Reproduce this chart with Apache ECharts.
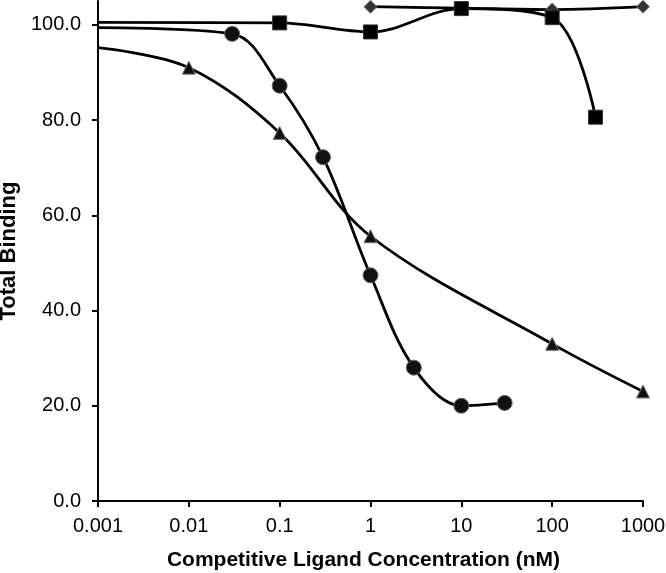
<!DOCTYPE html>
<html>
<head>
<meta charset="utf-8">
<script src="https://cdn.jsdelivr.net/npm/echarts@6/dist/echarts.min.js"></script>
<style>
html,body{margin:0;padding:0;background:#fff;}
#chart{width:666px;height:573px;}
</style>
</head>
<body>
<div id="chart"></div>
<script>
// Data
const xTickLabels = ['0.001', '0.01', '0.1', '1', '10', '100', '1000'];
const yTickValues = [0, 20, 40, 60, 80, 100];

const diamondX = [1, 10, 100, 1000];
const diamondY = [103.8, 103.5, 103.2, 103.8];

const squareX = [0.001, 0.1, 1, 10, 100, 300];
const squareY = [100.5, 100.4, 98.5, 103.4, 101.5, 80.6];
const squareHidden = [true, false, false, false, false, false];

const circleX = [0.001, 0.03, 0.1, 0.3, 1, 3, 10, 30];
const circleY = [99.4, 98.1, 87.2, 72.2, 47.4, 28.0, 20.0, 20.6];
const circleHidden = [true, false, false, false, false, false, false, false];

const triangleX = [0.001, 0.01, 0.1, 1, 100, 1000];
const triangleY = [95.2, 91.0, 77.3, 55.6, 33.0, 23.0];
const triangleHidden = [true, false, false, false, false, false];

function pts(xs, ys, hidden, size) {
  return xs.map((x, i) => ({
    value: [x, ys[i]],
    symbolSize: hidden && hidden[i] ? 0 : size
  }));
}

const font = '"Liberation Sans", Arial, sans-serif';
const chart = echarts.init(document.getElementById('chart'), null, {renderer: 'canvas'});

function series(name, data, symbol, color, border) {
  return {
    name: name,
    type: 'line',
    data: data,
    smooth: 0.35,
    symbol: symbol,
    showAllSymbol: true,
    clip: false,
    lineStyle: {color: '#000', width: 2.8},
    itemStyle: {color: color, borderColor: border, borderWidth: 1, opacity: 1},
    z: 3
  };
}

chart.setOption({
  animation: false,
  backgroundColor: '#fff',
  grid: {left: 98, right: 23, top: 1, bottom: 72, containLabel: false, outerBoundsMode: 'none'},
  xAxis: {
    type: 'log',
    logBase: 10,
    min: 0.001,
    max: 1000,
    name: 'Competitive Ligand Concentration (nM)',
    nameLocation: 'middle',
    nameGap: 49,
    nameTextStyle: {fontFamily: font, fontSize: 21, fontWeight: 'bold', color: '#000', padding: [0, 14, 0, 0]},
    axisLine: {lineStyle: {color: '#000', width: 2}},
    axisTick: {show: true, length: 6, lineStyle: {color: '#000', width: 2}},
    minorTick: {show: false},
    splitLine: {show: false},
    axisLabel: {
      fontFamily: font, fontSize: 20, color: '#000', margin: 15,
      formatter: function (v) {
        const idx = Math.round(Math.log10(v)) + 3;
        return xTickLabels[idx] !== undefined ? xTickLabels[idx] : '';
      }
    }
  },
  yAxis: {
    type: 'value',
    min: 0,
    max: 105,
    interval: 20,
    name: 'Total Binding',
    nameLocation: 'middle',
    nameGap: 74,
    nameTextStyle: {fontFamily: font, fontSize: 22, fontWeight: 'bold', color: '#000'},
    axisLine: {show: true, lineStyle: {color: '#000', width: 2}},
    axisTick: {show: true, length: 6, customValues: yTickValues, lineStyle: {color: '#000', width: 2}},
    splitLine: {show: false},
    axisLabel: {
      fontFamily: font, fontSize: 20, color: '#000', margin: 17,
      customValues: yTickValues,
      formatter: function (v) { return v.toFixed(1); }
    }
  },
  series: [
    series('Diamond', pts(diamondX, diamondY, null, 13), 'diamond', '#333', '#777'),
    series('Square', pts(squareX, squareY, squareHidden, 14), 'rect', '#000', '#333'),
    series('Circle', pts(circleX, circleY, circleHidden, 15), 'circle', '#111', '#666'),
    series('Triangle', pts(triangleX, triangleY, triangleHidden, 13), 'triangle', '#111', '#777')
  ]
});
</script>
</body>
</html>
